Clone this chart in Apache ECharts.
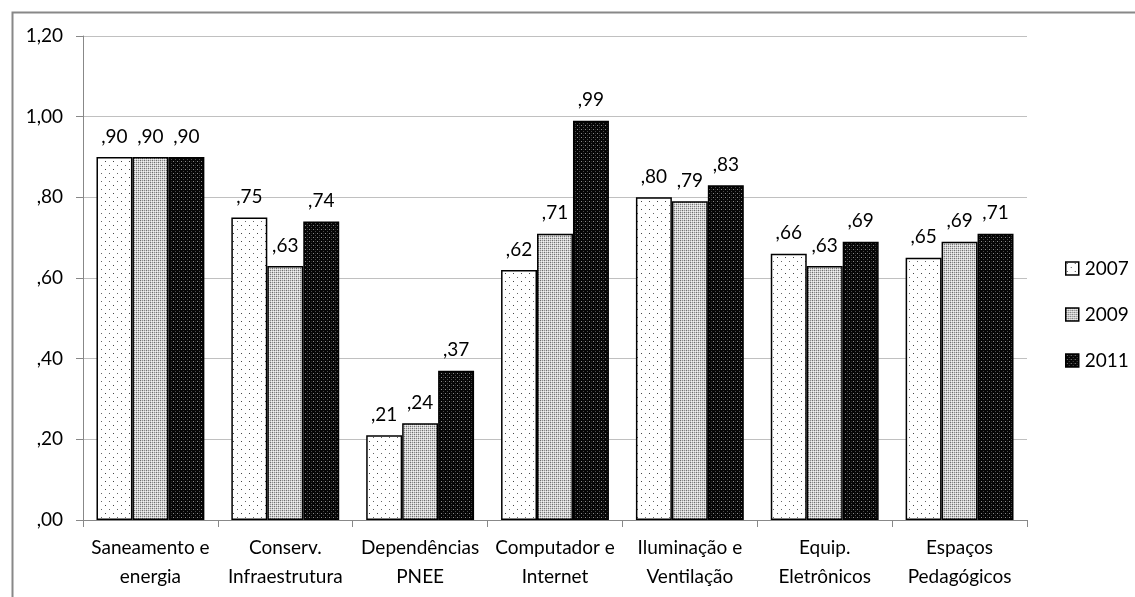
<!DOCTYPE html>
<html>
<head>
<meta charset="utf-8">
<script src="https://cdn.jsdelivr.net/npm/echarts@6/dist/echarts.min.js"></script>
<style>
  html, body { margin: 0; padding: 0; background: #fff; }
  #chart { width: 1135px; height: 597px; }
</style>
</head>
<body>
<div id="chart"></div>
<script>
// Categories and yearly index values
const categories = [
  'Saneamento e\nenergia',
  'Conserv.\nInfraestrutura',
  'Dependências\nPNEE',
  'Computador e\nInternet',
  'Iluminação e\nVentilação',
  'Equip.\nEletrônicos',
  'Espaços\nPedagógicos'
];
const years = ['2007', '2009', '2011'];
const values2007 = [0.90, 0.75, 0.21, 0.62, 0.80, 0.66, 0.65];
const values2009 = [0.90, 0.63, 0.24, 0.71, 0.79, 0.63, 0.69];
const values2011 = [0.90, 0.74, 0.37, 0.99, 0.83, 0.69, 0.71];

// Fill patterns drawn onto small tiles
function tile(w, h, bg, dots) {
  const c = document.createElement('canvas');
  c.width = w; c.height = h;
  const g = c.getContext('2d');
  g.fillStyle = bg; g.fillRect(0, 0, w, h);
  dots.forEach(([x, y, col]) => { g.fillStyle = col; g.fillRect(x, y, 1, 1); });
  return { image: c, repeat: 'repeat' };
}
const dotted = tile(8, 8, '#ffffff', [[1, 1, '#444'], [5, 5, '#666']]);
const grayCheck = tile(4, 4, '#cfcfcf', [
  [0, 0, '#6e6e6e'], [2, 0, '#909090'], [1, 1, '#f2f2f2'], [3, 1, '#f2f2f2'],
  [0, 2, '#909090'], [2, 2, '#6e6e6e'], [1, 3, '#f2f2f2'], [3, 3, '#f2f2f2']
]);
const darkDots = tile(4, 4, '#060606', [[1, 1, '#8a8a8a'], [3, 3, '#4a4a4a'], [3, 1, '#222']]);
const fills = [dotted, grayCheck, darkDots];

const fmt = v => ',' + Math.round(v * 100).toString().padStart(2, '0');
const tickFmt = v => {
  const s = v.toFixed(2).replace('.', ',');
  return s.startsWith('0') ? s.slice(1) : s;
};

const FONT = 'Lato, "Open Sans", sans-serif';

function bar(name, data, fill) {
  return {
    name, type: 'bar', data,
    barGap: '0%', barCategoryGap: '20%',
    itemStyle: { color: fill, borderColor: '#000', borderWidth: 1.5 },
    label: {
      show: true, position: 'top', distance: 11,
      formatter: p => fmt(p.value),
      color: '#000', fontSize: 19, fontFamily: FONT
    }
  };
}

const chart = echarts.init(document.getElementById('chart'), null, { renderer: 'canvas' });
chart.setOption({
  animation: false,
  backgroundColor: '#fff',
  graphic: [{
    type: 'rect', left: 10, top: 10,
    shape: { width: 1200, height: 700 },
    style: { fill: 'none', stroke: '#888', lineWidth: 2 },
    silent: true, z: -1
  }],
  grid: { left: 83, right: 108, top: 36, bottom: 77 },
  legend: {
    orient: 'vertical', left: 1060, top: 254,
    icon: 'rect',
    itemWidth: 13, itemHeight: 13, itemGap: 27,
    data: years,
    textStyle: { fontSize: 19, fontFamily: FONT, color: '#000', padding: [0, 0, 0, 1] },
    itemStyle: { borderColor: '#000', borderWidth: 1.5 }
  },
  xAxis: {
    type: 'category', data: categories,
    axisLine: { lineStyle: { color: '#888', width: 1 } },
    axisTick: { show: true, length: 7, lineStyle: { color: '#888' } },
    axisLabel: {
      color: '#000', fontSize: 19, fontFamily: FONT,
      lineHeight: 29, margin: 13, interval: 0
    }
  },
  yAxis: {
    type: 'value', min: 0, max: 1.2, interval: 0.2,
    axisLine: { show: true, lineStyle: { color: '#888', width: 1 } },
    axisTick: { show: true, length: 7, lineStyle: { color: '#888' } },
    splitLine: { show: true, lineStyle: { color: '#c0c0c0', width: 1 } },
    axisLabel: {
      color: '#000', fontSize: 19, fontFamily: FONT, margin: 20,
      formatter: tickFmt
    }
  },
  series: [
    bar(years[0], values2007, fills[0]),
    bar(years[1], values2009, fills[1]),
    bar(years[2], values2011, fills[2])
  ]
});
</script>
</body>
</html>
